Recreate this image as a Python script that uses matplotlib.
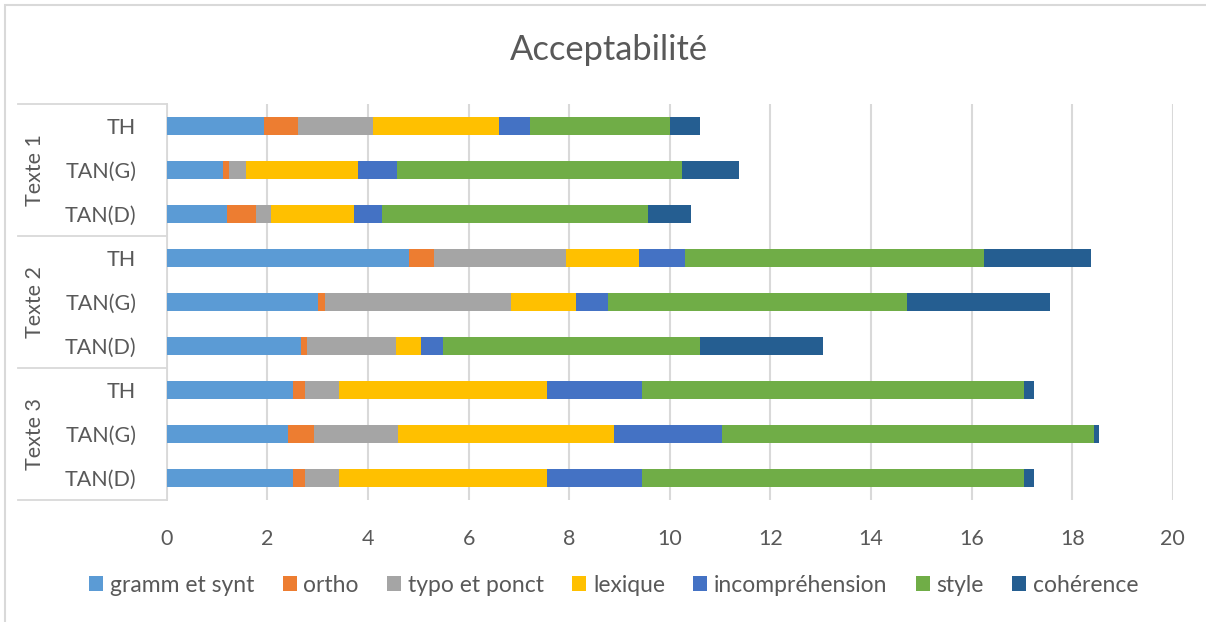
import matplotlib
matplotlib.use("Agg")
import matplotlib.pyplot as plt
from matplotlib.patches import Rectangle
from matplotlib.lines import Line2D
import numpy as np

plt.rcParams['font.family'] = ['Lato', 'DejaVu Sans']

# Categories (top to bottom)
groups = ["Texte 1", "Texte 2", "Texte 3"]
rows = ["TH", "TAN(G)", "TAN(D)"]

series_names = ["gramm et synt", "ortho", "typo et ponct", "lexique",
                "incompréhension", "style", "cohérence"]
colors = ["#5B9BD5", "#ED7D31", "#A5A5A5", "#FFC000",
          "#4472C4", "#70AD47", "#255E91"]

# Values per row: T1 TH, T1 TAN(G), T1 TAN(D), T2 TH, T2 TAN(G), T2 TAN(D), T3 TH, T3 TAN(G), T3 TAN(D)
gramm = [1.94, 1.12, 1.20, 4.81, 3.01, 2.66, 2.50, 2.40, 2.50]
ortho = [0.66, 0.12, 0.58, 0.50, 0.14, 0.12, 0.25, 0.53, 0.25]
typo = [1.50, 0.33, 0.29, 2.63, 3.69, 1.78, 0.68, 1.67, 0.68]
lexique = [2.50, 2.24, 1.65, 1.45, 1.30, 0.50, 4.13, 4.29, 4.13]
incomprehension = [0.62, 0.76, 0.56, 0.92, 0.64, 0.44, 1.88, 2.15, 1.88]
style = [2.78, 5.68, 5.29, 5.94, 5.93, 5.11, 7.61, 7.39, 7.61]
coherence = [0.61, 1.13, 0.85, 2.12, 2.85, 2.44, 0.19, 0.10, 0.19]

x_ticks = [0, 2, 4, 6, 8, 10, 12, 14, 16, 18, 20]

all_series = [gramm, ortho, typo, lexique, incomprehension, style, coherence]

W, H = 1206, 622
fig = plt.figure(figsize=(W / 100, H / 100), dpi=100)
text_color = "#595959"
grid_color = "#D9D9D9"

# Chart frame
fig.patches.append(Rectangle((5 / W, -0.1), 1.2, 1 - 5 / H + 0.1,
                             transform=fig.transFigure, fill=False,
                             edgecolor=grid_color, linewidth=1.5))

ax_left, ax_right = 166.8 / W, (166.8 + 20 * 50.3) / W
ax_top, ax_bot = 1 - 104 / H, 1 - 500 / H
ax = fig.add_axes([ax_left, ax_bot, ax_right - ax_left, ax_top - ax_bot])

n = len(gramm)
ypos = np.arange(n)
left = np.zeros(n)
for name, vals, col in zip(series_names, all_series, colors):
    vals = np.array(vals)
    ax.barh(ypos, vals, left=left, height=0.43, color=col, label=name,
            linewidth=0, zorder=3)
    left += vals

ax.set_xlim(0, 20)
ax.set_ylim(n - 0.5, -0.5)
ax.set_xticks(x_ticks)
ax.set_xticklabels([str(t) for t in x_ticks])
ax.tick_params(axis='x', length=0, pad=21, labelsize=15.5, labelcolor=text_color)
ax.set_yticks(ypos)
ax.set_yticklabels(rows * len(groups))
ax.tick_params(axis='y', length=0, pad=22, labelsize=15.5, labelcolor=text_color)
ax.grid(axis='x', color=grid_color, linewidth=1.5, zorder=0)
for s in ["top", "right", "bottom"]:
    ax.spines[s].set_visible(False)
ax.spines["left"].set_color(grid_color)
ax.spines["left"].set_linewidth(1.3)

# Group separators and group labels on the category axis
sep_x0 = 18 / W
for k in range(len(groups) + 1):
    yb = -0.5 + 3 * k
    yfig = fig.transFigure.inverted().transform(ax.transData.transform((0, yb)))[1]
    fig.add_artist(Line2D([sep_x0, ax_left], [yfig, yfig], transform=fig.transFigure,
                          color=grid_color, linewidth=1.3))
for k, g in enumerate(groups):
    yc = 3 * k + 1
    yfig = fig.transFigure.inverted().transform(ax.transData.transform((0, yc)))[1]
    fig.text(35 / W, yfig, g, rotation=90, ha='center', va='center',
             fontsize=15.5, color=text_color)

# Title
fig.text(609 / W, 1 - 50 / H, "Acceptabilité", ha='center', va='center',
         fontsize=24.8, color=text_color)

# Legend
leg = fig.legend(loc='center', bbox_to_anchor=(614 / W, 1 - 585 / H), ncol=7,
                 frameon=False, fontsize=16.5, handlelength=0.6, handleheight=0.6,
                 handletextpad=0.3, columnspacing=1.24, labelcolor=text_color)

fig.savefig("out.png", dpi=100)
